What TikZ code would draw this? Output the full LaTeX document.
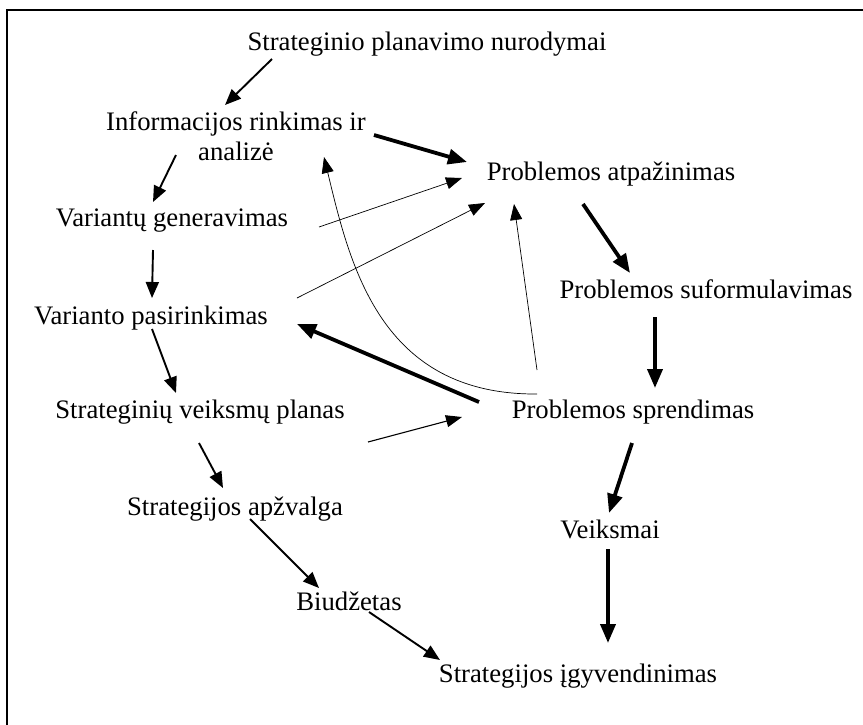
\documentclass[tikz,border=0pt]{standalone}
\usepackage{fontspec}
\setmainfont{Liberation Serif}
\usetikzlibrary{arrows.meta}
\begin{document}
\begin{tikzpicture}[x=1pt,y=-1pt,
  lbl/.style={anchor=base, inner sep=0pt, font=\fontsize{26.7}{30}\selectfont},
  linkthin/.style={line width=0.7pt, -{Triangle[length=16pt,width=12pt]}},
  linkmid/.style={line width=1.9pt, -{Triangle[length=16pt,width=13pt]}},
  linkbold/.style={line width=3.8pt, -{Triangle[length=19pt,width=15pt]}}]
\useasboundingbox (0,0) rectangle (863,724);
% frame (its right and bottom sides run past the page)
\draw[line width=2.7pt] (880,10) -| (7,740);

% labels (the two-line label sits on the baseline of its last line)
\node[lbl] (snd) at (427,50) {Strateginio planavimo nurodymai};
\node[lbl, align=center] (info) at (236,160) {Informacijos rinkimas ir\\analizė};
\node[lbl] (atp) at (611,180) {Problemos atpažinimas};
\node[lbl] (gen) at (172,226) {Variantų generavimas};
\node[lbl] (suf) at (706,298) {Problemos suformulavimas};
\node[lbl] (pas) at (151,324) {Varianto pasirinkimas};
\node[lbl] (vp) at (200,418) {Strateginių veiksmų planas};
\node[lbl] (spr) at (633,418) {Problemos sprendimas};
\node[lbl] (apz) at (235,515) {Strategijos apžvalga};
\node[lbl] (vei) at (610,538) {Veiksmai};
\node[lbl] (biu) at (349,610) {Biudžetas};
\node[lbl] (igy) at (578,682) {Strategijos įgyvendinimas};

% left chain
\draw[linkmid] ([shift={(-155,9)}]snd.base) -- ([shift={(-11,-55)}]info.base);
\draw[linkmid] ([shift={(-60,-5)}]info.base) -- ([shift={(-19,-24)}]gen.base);
\draw[linkmid] ([shift={(-19,24)}]gen.base) -- ([shift={(1,-26)}]pas.base);
\draw[linkmid] ([shift={(1,5)}]pas.base) -- ([shift={(-24,-25)}]vp.base);
\draw[linkmid] ([shift={(-1,25)}]vp.base) -- ([shift={(-12,-27)}]apz.base);
\draw[linkmid] ([shift={(15,4)}]apz.base) -- ([shift={(-30,-22)}]biu.base);
\draw[linkmid] ([shift={(20,2)}]biu.base) -- ([shift={(-138,-22)}]igy.base);

% right chain
\draw[linkbold] ([shift={(138,-25)}]info.base) -- ([shift={(-144,-18)}]atp.base);
\draw[linkbold] ([shift={(-28,24)}]atp.base) -- ([shift={(-76,-25)}]suf.base);
\draw[linkbold] ([shift={(-51,19)}]suf.base) -- ([shift={(22,-30)}]spr.base);
\draw[linkbold] ([shift={(-1,25)}]spr.base) -- ([shift={(-1,-25)}]vei.base);
\draw[linkbold] ([shift={(-2,11)}]vei.base) -- ([shift={(30,-39)}]igy.base);
\draw[linkbold] ([shift={(-154,-16)}]spr.base) -- ([shift={(146,0)}]pas.base);

% feedback links
\draw[linkthin] ([shift={(147,1)}]gen.base) -- ([shift={(-149,-2)}]atp.base);
\draw[linkthin] ([shift={(146,-26)}]pas.base) -- ([shift={(-126,23)}]atp.base);
\draw[linkthin] ([shift={(-96,-48)}]spr.base) -- ([shift={(-97,24)}]atp.base);
\draw[linkthin, line width=1.1pt] ([shift={(168,24)}]vp.base) -- ([shift={(-171,-1)}]spr.base);
\draw[linkthin] ([shift={(-96,-24)}]spr.base)
  .. controls ([shift={(-253,-23)}]spr.base) and ([shift={(-283,-153)}]spr.base)
  .. ([shift={(88,-3)}]info.base);
\end{tikzpicture}
\end{document}
